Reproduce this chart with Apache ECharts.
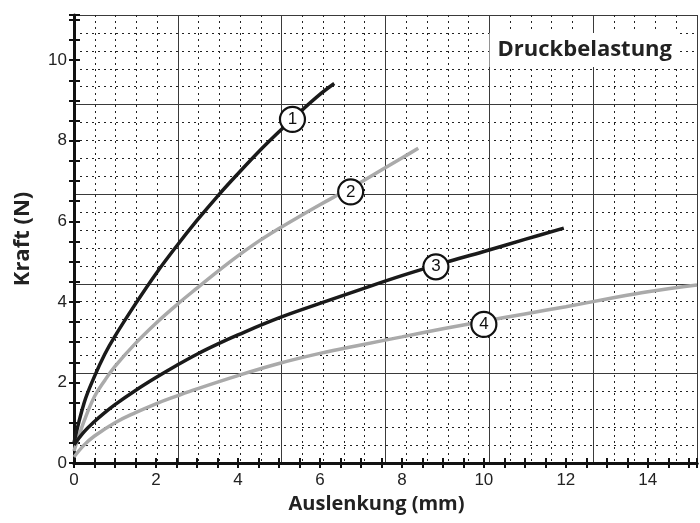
<!DOCTYPE html>
<html>
<head>
<meta charset="utf-8">
<script src="https://cdn.jsdelivr.net/npm/echarts@6/dist/echarts.min.js"></script>
<style>
  html, body { margin: 0; padding: 0; background: #fff; }
  #chart { width: 700px; height: 523px; }
</style>
</head>
<body>
<div id="chart"></div>
<script>
// Kennlinien (Auslenkung mm -> Kraft N)
var curve1 = [[0, 0.5], [0.25, 1.5], [0.5, 2.15], [0.75, 2.7], [1, 3.15], [1.5, 3.95], [2, 4.7], [2.5, 5.38], [3, 6.02], [3.5, 6.62], [4, 7.18], [4.5, 7.72], [5, 8.22], [5.5, 8.7], [6, 9.15], [6.35, 9.42]];
var curve2 = [[0, 0.3], [0.25, 1.05], [0.5, 1.65], [0.75, 2.05], [1, 2.4], [1.5, 2.97], [2, 3.47], [2.5, 3.92], [3, 4.34], [3.5, 4.75], [4, 5.14], [4.5, 5.5], [5, 5.82], [5.5, 6.12], [6, 6.41], [6.5, 6.69], [7, 6.97], [7.5, 7.27], [8, 7.57], [8.4, 7.81]];
var curve3 = [[0, 0.45], [0.25, 0.78], [0.5, 1.03], [0.75, 1.25], [1, 1.45], [1.5, 1.8], [2, 2.12], [2.5, 2.42], [3, 2.7], [3.5, 2.95], [4, 3.18], [5, 3.6], [6, 3.96], [7, 4.31], [8, 4.65], [9, 4.96], [10, 5.25], [11, 5.55], [11.95, 5.83]];
var curve4 = [[0, 0.15], [0.25, 0.45], [0.5, 0.67], [1, 1.0], [1.5, 1.25], [2, 1.47], [2.5, 1.66], [3, 1.84], [4, 2.17], [5, 2.47], [6, 2.72], [7, 2.93], [8, 3.13], [9, 3.33], [10, 3.52], [11, 3.7], [12, 3.88], [13, 4.07], [14, 4.25], [15.2, 4.42]];
// Positionen der Kreis-Nummern
var markers = [[5.33, 8.53, '1'], [6.75, 6.73, '2'], [8.83, 4.87, '3'], [10.0, 3.44, '4']];
var xMax = 15.2, yMax = 11.12;
var xTickStep = 0.5, yTickStep = 0.5, labelStep = 2;

var chart = echarts.init(document.getElementById('chart'));

var black = '#1a1a1a', gray = '#aaaaaa';
var numFont = '"Liberation Sans Narrow", "Liberation Sans", sans-serif';
var titleFont = '"Open Sans", sans-serif';

function evenLabel(v) { return Math.abs(v % labelStep) < 1e-6 ? String(v) : ''; }

var option = {
  backgroundColor: '#fff',
  animation: false,
  title: {
    text: 'Druckbelastung',
    right: 20, top: 33,
    backgroundColor: '#fff',
    padding: [6, 8, 6, 8],
    textStyle: { fontFamily: titleFont, fontWeight: 'bold', fontSize: 22, color: '#222' }
  },
  grid: { left: 74, right: 0, top: 15, bottom: 60, containLabel: false },
  xAxis: [
    { // Hauptachse unten
      type: 'value', min: 0, max: xMax, interval: xTickStep, position: 'bottom',
      name: 'Auslenkung (mm)', nameLocation: 'middle', nameGap: 30,
      nameTextStyle: { fontFamily: titleFont, fontWeight: 'bold', fontSize: 20, color: '#222', padding: [0, 18, 0, 0] },
      axisLine: { lineStyle: { color: '#111', width: 3 } },
      axisTick: { length: 5, lineStyle: { color: '#111', width: 2 } },
      axisLabel: { formatter: evenLabel, fontFamily: numFont, fontSize: 17, color: '#222', margin: 9 },
      splitLine: { show: false }
    },
    { // Striche nach innen
      type: 'value', min: 0, max: xMax, interval: xTickStep, position: 'bottom',
      axisLine: { show: false },
      axisTick: { inside: true, length: 5, lineStyle: { color: '#111', width: 2 } },
      axisLabel: { show: false },
      splitLine: { show: false }
    },
    { // Rasterpapier
      type: 'value', min: 0, max: xMax, interval: xMax / 6, position: 'top',
      axisLine: { lineStyle: { color: '#111', width: 3 } },
      axisTick: { show: false },
      axisLabel: { show: false },
      splitLine: { show: true, lineStyle: { color: '#3a3a3a', width: 1 } },
      minorTick: { show: false, splitNumber: 5 },
      minorSplitLine: { show: true, lineStyle: { color: '#222', width: 1, type: [2, 4] } }
    }
  ],
  yAxis: [
    {
      type: 'value', min: 0, max: yMax, interval: yTickStep, position: 'left',
      name: 'Kraft (N)', nameLocation: 'middle', nameGap: 40,
      nameTextStyle: { fontFamily: titleFont, fontWeight: 'bold', fontSize: 22, color: '#222' },
      axisLine: { lineStyle: { color: '#111', width: 3 } },
      axisTick: { length: 5, lineStyle: { color: '#111', width: 2 } },
      axisLabel: { formatter: evenLabel, fontFamily: numFont, fontSize: 17, color: '#222', margin: 7 },
      splitLine: { show: false }
    },
    {
      type: 'value', min: 0, max: yMax, interval: yTickStep, position: 'left',
      axisLine: { show: false },
      axisTick: { inside: true, length: 6, lineStyle: { color: '#111', width: 2 } },
      axisLabel: { show: false },
      splitLine: { show: false }
    },
    {
      type: 'value', min: 0, max: yMax, interval: yMax / 5, position: 'right',
      axisLine: { show: false },
      axisTick: { show: false },
      axisLabel: { show: false },
      splitLine: { show: true, lineStyle: { color: '#3a3a3a', width: 1 } },
      minorTick: { show: false, splitNumber: 5 },
      minorSplitLine: { show: true, lineStyle: { color: '#222', width: 1, type: [2, 4] } }
    }
  ],
  series: [
    { name: '1', type: 'line', data: curve1, smooth: 0.4, showSymbol: false, z: 5, lineStyle: { color: black, width: 3.5 } },
    { name: '2', type: 'line', data: curve2, smooth: 0.4, showSymbol: false, z: 4, lineStyle: { color: gray, width: 3.5 } },
    { name: '3', type: 'line', data: curve3, smooth: 0.4, showSymbol: false, z: 5, lineStyle: { color: black, width: 3.5 } },
    { name: '4', type: 'line', data: curve4, smooth: 0.4, showSymbol: false, z: 4, lineStyle: { color: gray, width: 3.5 } },
    {
      type: 'scatter', z: 10, symbol: 'circle', symbolSize: 25,
      data: markers.map(function (m) { return { value: [m[0], m[1]], name: m[2] }; }),
      itemStyle: { color: '#fff', borderColor: '#111', borderWidth: 2.2, opacity: 1 },
      label: { show: true, position: 'inside', formatter: '{b}', fontFamily: '"Liberation Sans", sans-serif', fontSize: 17, color: '#111' }
    }
  ]
};
chart.setOption(option);
</script>
</body>
</html>
